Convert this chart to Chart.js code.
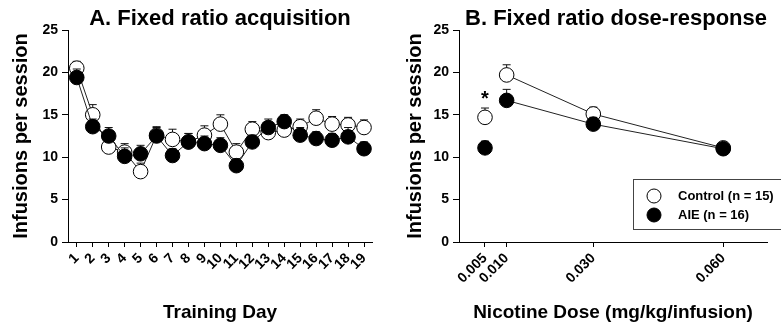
<!DOCTYPE html>
<html>
<head>
<meta charset="utf-8">
<script src="https://cdn.jsdelivr.net/npm/chart.js@4.4.1/dist/chart.umd.min.js"></script>
<style>
  html, body { margin: 0; padding: 0; background: #fff; }
  #wrap { position: relative; width: 781px; height: 329px; overflow: hidden; }
  .panel { position: absolute; top: 0; height: 329px; }
  #panel-a { left: 0; width: 390px; }
  #panel-b { left: 390px; width: 391px; }
</style>
</head>
<body>
<div id="wrap">
  <div class="panel" id="panel-a"><canvas id="chart-a"></canvas></div>
  <div class="panel" id="panel-b"><canvas id="chart-b"></canvas></div>
</div>
<script>
const FONT = "'Liberation Sans', Arial, sans-serif";

// Panel A — acquisition, per training day
const days       = [1, 2, 3, 4, 5, 6, 7, 8, 9, 10, 11, 12, 13, 14, 15, 16, 17, 18, 19];
const ctrlAcq    = [20.5, 15.0, 11.2, 10.6, 8.3, 12.6, 12.1, 11.8, 12.6, 13.9, 10.6, 13.3, 12.9, 13.2, 13.6, 14.6, 13.9, 13.8, 13.5];
const ctrlAcqErr = [0.8, 1.2, 1.0, 1.0, 1.0, 1.0, 1.2, 1.0, 1.1, 1.1, 1.0, 0.9, 1.0, 1.0, 0.9, 1.0, 0.9, 0.9, 0.9];
const aieAcq     = [19.4, 13.6, 12.5, 10.1, 10.4, 12.5, 10.2, 11.8, 11.6, 11.4, 9.0, 11.8, 13.5, 14.2, 12.6, 12.2, 12.0, 12.4, 11.0];
const aieAcqErr  = [1.0, 0.9, 1.0, 1.0, 1.0, 1.0, 0.8, 1.0, 0.9, 0.9, 0.8, 0.8, 1.0, 0.8, 0.9, 0.8, 0.8, 1.1, 0.8];

// Panel B — dose-response
const doses       = [0.005, 0.010, 0.030, 0.060];
const ctrlDose    = [14.7, 19.7, 15.1, 11.1];
const ctrlDoseErr = [1.1, 1.2, 0.8, 0.6];
const aieDose     = [11.1, 16.7, 13.9, 11.0];
const aieDoseErr  = [0.8, 1.3, 0.8, 0.6];

const yTicks      = [0, 5, 10, 15, 20, 25];
const groupLabels = ['Control (n = 15)', 'AIE (n = 16)'];
const starDose    = 0.005;
const starLevel   = 16.2;

const bold = size => ({ family: FONT, size, weight: 'bold' });

// error bars (upper half only, with cap), drawn under each dataset's own markers
const errorBars = {
  id: 'errorBars',
  beforeDatasetDraw(chart, args) {
    const ds = chart.data.datasets[args.index];
    if (!ds.err) return;
    const { ctx } = chart;
    const y = chart.scales.y;
    ctx.save();
    ctx.strokeStyle = '#111';
    ctx.lineWidth = 1;
    args.meta.data.forEach((pt, i) => {
      const top = y.getPixelForValue(ds.data[i].y + ds.err[i]);
      ctx.beginPath();
      ctx.moveTo(pt.x, pt.y);
      ctx.lineTo(pt.x, top);
      ctx.moveTo(pt.x - 4, top);
      ctx.lineTo(pt.x + 4, top);
      ctx.stroke();
    });
    ctx.restore();
  },
};

// boxed legend inside panel B
const boxLegend = {
  id: 'boxLegend',
  afterDraw(chart) {
    if (!chart.options.plugins.boxLegend?.show) return;
    const { ctx, chartArea } = chart;
    const left = chartArea.right - 134;
    const top  = chartArea.top + 149;
    ctx.save();
    ctx.fillStyle = '#fff';
    ctx.fillRect(left, top, chart.width - left + 5, 51);
    ctx.strokeStyle = '#444';
    ctx.lineWidth = 1;
    ctx.strokeRect(left + 0.5, top + 0.5, chart.width - left + 5, 50);
    chart.data.datasets.forEach((ds, i) => {
      const cy = top + 17 + i * 19;
      ctx.beginPath();
      ctx.arc(left + 21, cy, 7, 0, Math.PI * 2);
      ctx.fillStyle = ds.pointBackgroundColor;
      ctx.fill();
      ctx.strokeStyle = ds.pointBorderColor;
      ctx.stroke();
      ctx.fillStyle = '#000';
      ctx.font = `bold 13px ${FONT}`;
      ctx.textBaseline = 'middle';
      ctx.textAlign = 'left';
      ctx.fillText(ds.label, left + 45, cy);
    });
    ctx.restore();
  },
};

// significance star
const star = {
  id: 'star',
  afterDatasetsDraw(chart) {
    if (!chart.options.plugins.star?.show) return;
    const { ctx, scales } = chart;
    ctx.save();
    ctx.fillStyle = '#000';
    ctx.font = `bold 20px ${FONT}`;
    ctx.textAlign = 'center';
    ctx.textBaseline = 'alphabetic';
    ctx.fillText('*', scales.x.getPixelForValue(starDose), scales.y.getPixelForValue(starLevel));
    ctx.restore();
  },
};

function series(xs, ys, errs, label, fill, order, extra = {}) {
  return {
    label,
    data: xs.map((x, i) => ({ x, y: ys[i] })),
    err: errs,
    showLine: true,
    borderColor: '#222',
    borderWidth: 1,
    pointRadius: 7.3,
    pointHoverRadius: 7.3,
    pointBackgroundColor: fill,
    pointBorderColor: '#000',
    pointBorderWidth: 1,
    order,
    ...extra,
  };
}

function axisY(width, titlePad) {
  return {
    type: 'linear',
    min: 0,
    max: 25,
    afterBuildTicks: s => { s.ticks = yTicks.map(v => ({ value: v })); },
    afterFit: s => { s.width = width; },
    grid: { drawOnChartArea: false, tickLength: 6, color: '#000', tickColor: '#000' },
    border: { color: '#000', width: 1 },
    ticks: { color: '#000', font: bold(14), padding: 4 },
    title: {
      display: true, text: 'Infusions per session', color: '#000',
      font: bold(20), padding: { top: titlePad, bottom: 0 },
    },
  };
}

function axisX(min, max, tickVals, fmtTick, titleText) {
  return {
    type: 'linear',
    min,
    max,
    afterBuildTicks: s => { s.ticks = tickVals.map(v => ({ value: v })); },
    afterFit: s => { s.height = 87; },
    grid: { drawOnChartArea: false, tickLength: 5, color: '#000', tickColor: '#000' },
    border: { color: '#000', width: 1 },
    ticks: {
      autoSkip: false, minRotation: 45, maxRotation: 45, padding: 3,
      color: '#000', font: bold(14), callback: fmtTick,
    },
    title: {
      display: true, text: titleText, color: '#000',
      font: bold(19), padding: { top: 0, bottom: 5 },
    },
  };
}

function baseOptions(titleText, titleAlign, padRight) {
  return {
    responsive: true,
    maintainAspectRatio: false,
    animation: false,
    layout: { padding: { left: 0, right: padRight, top: 0, bottom: 0 } },
    plugins: {
      legend: { display: false },
      tooltip: { enabled: false },
      title: {
        display: true, text: titleText, color: '#000', fullSize: false,
        align: titleAlign, font: { ...bold(22), lineHeight: 1 },
        padding: { top: 8, bottom: 0 },
      },
    },
  };
}

new Chart(document.getElementById('chart-a'), {
  type: 'scatter',
  data: {
    datasets: [
      series(days, ctrlAcq, ctrlAcqErr, groupLabels[0], '#fff', 2),
      series(days, aieAcq, aieAcqErr, groupLabels[1], '#000', 1),
    ],
  },
  options: {
    ...baseOptions('A. Fixed ratio acquisition', 'center', 18),
    scales: {
      x: axisX(0.45, 19.5, days, v => String(v), 'Training Day'),
      y: axisY(68, 9),
    },
  },
  plugins: [errorBars],
});

// no connecting line from the lowest dose to the next one
const skipFirst = { borderColor: ctx => (ctx.p0DataIndex === 0 ? 'rgba(0,0,0,0)' : '#222') };

const optsB = baseOptions('B. Fixed ratio dose-response', 'end', 14);
optsB.plugins.boxLegend = { show: true };
optsB.plugins.star = { show: true };

new Chart(document.getElementById('chart-b'), {
  type: 'scatter',
  data: {
    datasets: [
      series(doses, ctrlDose, ctrlDoseErr, groupLabels[0], '#fff', 2, { segment: skipFirst }),
      series(doses, aieDose, aieDoseErr, groupLabels[1], '#000', 1, { segment: skipFirst }),
    ],
  },
  options: {
    ...optsB,
    scales: {
      x: axisX(-0.001, 0.0701, doses, v => v.toFixed(3), 'Nicotine Dose (mg/kg/infusion)'),
      y: axisY(69, 13.5),
    },
  },
  plugins: [errorBars, star, boxLegend],
});
</script>
</body>
</html>
